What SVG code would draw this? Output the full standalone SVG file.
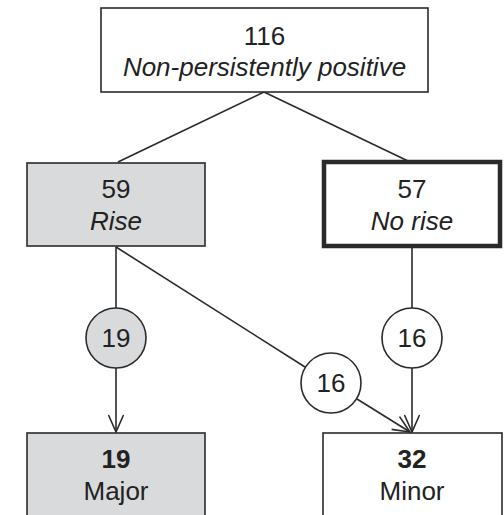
<svg xmlns="http://www.w3.org/2000/svg" width="504" height="515" viewBox="0 0 504 515">
<defs>
<style>
.box{stroke:#2a2a2a;stroke-width:1.6;fill:#fff}
.gray{fill:#d9dadc}
.thick{stroke-width:4.5}
.t{font-family:"Liberation Sans",Arial,sans-serif;font-size:26px;fill:#222;text-anchor:middle}
.i{font-style:italic}
.b{font-weight:bold}
.ln{stroke:#2a2a2a;stroke-width:1.6;fill:none}
</style>
<marker id="arr" viewBox="0 0 20 18" refX="18" refY="9" markerWidth="20" markerHeight="18" markerUnits="userSpaceOnUse" orient="auto">
<path d="M1,1.5 L18,9 L1,16.5" fill="none" stroke="#2a2a2a" stroke-width="1.6"/>
</marker>
</defs>
<rect width="504" height="515" fill="#fff"/>
<g id="connectors">
<line class="ln" x1="264" y1="92" x2="118" y2="162"/>
<line class="ln" x1="264" y1="92" x2="408" y2="161"/>
<line class="ln" x1="116" y1="247" x2="116" y2="308"/>
<line class="ln" x1="116" y1="368" x2="116" y2="432" marker-end="url(#arr)"/>
<line class="ln" x1="116" y1="247" x2="305" y2="367"/>
<line class="ln" x1="357" y1="399" x2="410" y2="432" marker-end="url(#arr)"/>
<line class="ln" x1="412" y1="248" x2="412" y2="308"/>
<line class="ln" x1="412" y1="368" x2="412" y2="432" marker-end="url(#arr)"/>
</g>
<g id="n116">
<rect class="box" x="101" y="8" width="327" height="84"/>
<text class="t" x="264.5" y="45">116</text>
<text class="t i" x="264.5" y="76">Non-persistently positive</text>
</g>
<g id="n59">
<rect class="box gray" x="27" y="163" width="178" height="83"/>
<text class="t" x="116" y="198">59</text>
<text class="t i" x="116" y="230">Rise</text>
</g>
<g id="n57">
<rect class="box thick" x="324" y="162" width="176" height="84"/>
<text class="t" x="412" y="198">57</text>
<text class="t i" x="412" y="230">No rise</text>
</g>
<g id="c19">
<circle class="box gray" cx="116" cy="338" r="30"/>
<text class="t" x="116" y="347">19</text>
</g>
<g id="c16a">
<circle class="box" cx="331" cy="383" r="30"/>
<text class="t" x="331" y="392">16</text>
</g>
<g id="c16b">
<circle class="box" cx="412" cy="338" r="30"/>
<text class="t" x="412" y="347">16</text>
</g>
<g id="n19">
<rect class="box gray" x="27" y="433" width="178" height="90"/>
<text class="t b" x="116" y="468">19</text>
<text class="t" x="116" y="500">Major</text>
</g>
<g id="n32">
<rect class="box" x="323" y="433" width="179" height="90"/>
<text class="t b" x="412" y="468">32</text>
<text class="t" x="412" y="500">Minor</text>
</g>
</svg>
